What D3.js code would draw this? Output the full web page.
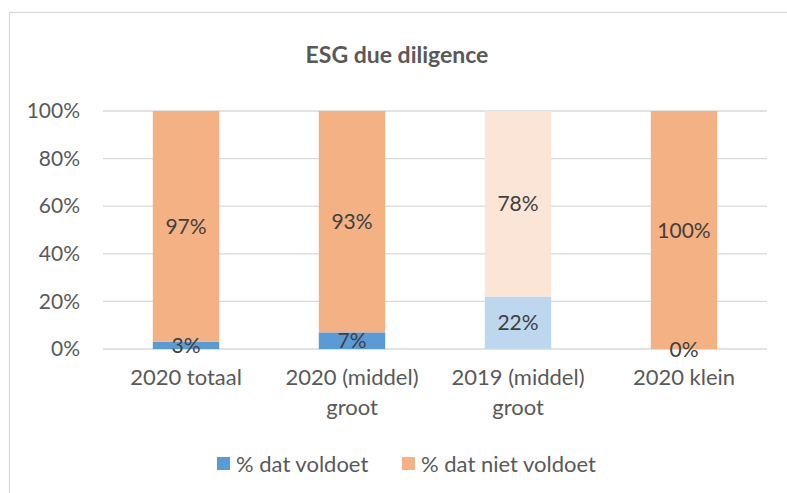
<!DOCTYPE html>
<html>
<head>
<meta charset="utf-8">
<script src="https://cdn.jsdelivr.net/npm/d3@7"></script>
<style>
  body { margin: 0; background: #fff; }
  svg { font-family: Lato, "Liberation Sans", sans-serif; }
</style>
</head>
<body>
<div id="chart"></div>
<script>
// chart data
var categories = ["2020 totaal", "2020 (middel) groot", "2019 (middel) groot", "2020 klein"];
var voldoet = [0.03, 0.07, 0.22, 0.00];
var nietVoldoet = [0.97, 0.93, 0.78, 1.00];
var seriesNames = ["% dat voldoet", "% dat niet voldoet"];
var yTicks = [0, 0.2, 0.4, 0.6, 0.8, 1.0];

var W = 787, H = 493;
var margin = { top: 111, right: 20, bottom: 144, left: 103 };
var width = 767 - margin.left;
var height = 349 - margin.top;

var svg = d3.select("#chart").append("svg")
	.attr("width", W)
	.attr("height", H);

// chart area border
svg.append("rect")
	.attr("x", 9.5).attr("y", 12.5)
	.attr("width", W).attr("height", H)
	.attr("fill", "none")
	.attr("stroke", "#d9d9d9")
	.attr("stroke-width", 1.3);

svg.append("text")
	.attr("x", 397).attr("y", 63)
	.attr("text-anchor", "middle")
	.attr("fill", "#595959")
	.style("font-size", "23px")
	.style("font-weight", "bold")
	.text("ESG due diligence");

var g = svg.append("g")
	.attr("transform", "translate(" + margin.left + "," + margin.top + ")");

var rows = categories.map(function(c, i) {
	return { cat: c, voldoet: voldoet[i], niet: nietVoldoet[i], idx: i };
});

var x = d3.scaleBand()
	.domain(categories)
	.range([0, width])
	.paddingInner(0.6)
	.paddingOuter(0.3);

var y = d3.scaleLinear()
	.domain([0, 1])
	.range([height, 0]);

// gridlines
g.append("g")
	.selectAll("line")
	.data(yTicks)
	.enter().append("line")
	.attr("x1", 0).attr("x2", width)
	.attr("y1", function(d) { return y(d); })
	.attr("y2", function(d) { return y(d); })
	.attr("stroke", "#d9d9d9")
	.attr("stroke-width", 1.3);

// y axis
var yAxis = g.append("g")
	.call(d3.axisLeft(y).tickValues(yTicks).tickFormat(d3.format(".0%")).tickSize(0).tickPadding(23));
yAxis.select(".domain").remove();
yAxis.selectAll("text")
	.attr("fill", "#595959")
	.style("font-size", "21px")
	.style("font-family", "Lato, sans-serif");

// stacked bars
var stack = d3.stack().keys(["voldoet", "niet"]);
var stacked = stack(rows);

var colors = {
	voldoet: ["#5b9bd5", "#5b9bd5", "#bdd7ee", "#5b9bd5"],
	niet: ["#f4b183", "#f4b183", "#fbe5d6", "#f4b183"]
};

var segments = [];
stacked.forEach(function(s) {
	s.forEach(function(d) { segments.push({ key: s.key, d: d }); });
});

g.append("g").selectAll("rect")
	.data(segments)
	.enter().append("rect")
	.attr("x", function(s) { return x(s.d.data.cat); })
	.attr("y", function(s) { return y(s.d[1]); })
	.attr("height", function(s) { return y(s.d[0]) - y(s.d[1]); })
	.attr("width", x.bandwidth())
	.attr("fill", function(s) { return colors[s.key][s.d.data.idx]; });

// data labels, on top of all bars
g.append("g").selectAll("text")
	.data(segments)
	.enter().append("text")
	.attr("x", function(s) { return x(s.d.data.cat) + x.bandwidth() / 2; })
	.attr("y", function(s) { return (y(s.d[0]) + y(s.d[1])) / 2; })
	.attr("dy", "0.36em")
	.attr("text-anchor", "middle")
	.attr("fill", "#404040")
	.style("font-size", "21px")
	.text(function(s) { return d3.format(".0%")(s.d[1] - s.d[0]); });

// x axis labels (wrapped)
var xAxis = g.append("g")
	.attr("transform", "translate(0," + height + ")")
	.call(d3.axisBottom(x).tickSize(0).tickPadding(20));
xAxis.select(".domain").remove();
xAxis.selectAll("text")
	.attr("fill", "#595959")
	.style("font-size", "22px")
	.style("font-family", "Lato, sans-serif")
	.call(wrap, x.step() * 0.95);

// legend
var legend = svg.append("g").attr("transform", "translate(217,457)");
var legendX = [0, 185];
var legendColors = ["#5b9bd5", "#f4b183"];
seriesNames.forEach(function(name, i) {
	var l = legend.append("g").attr("transform", "translate(" + legendX[i] + ",0)");
	l.append("rect").attr("width", 13).attr("height", 13).attr("fill", legendColors[i]);
	l.append("text")
		.attr("x", 19).attr("y", 7).attr("dy", "0.36em")
		.attr("fill", "#595959")
		.style("font-size", "22px")
		.text(name);
});

function wrap(text, w) {
	text.each(function() {
		var text = d3.select(this),
			words = text.text().split(/\s+/).reverse(),
			word,
			line = [],
			lineNumber = 0,
			lineHeight = 1.38,
			yy = text.attr("y"),
			dy = parseFloat(text.attr("dy")),
			tspan = text.text(null).append("tspan").attr("x", 0).attr("y", yy).attr("dy", dy + "em");
		while (word = words.pop()) {
			line.push(word);
			tspan.text(line.join(" "));
			if (tspan.node().getComputedTextLength() > w) {
				line.pop();
				tspan.text(line.join(" "));
				line = [word];
				tspan = text.append("tspan").attr("x", 0).attr("y", yy).attr("dy", ++lineNumber * lineHeight + dy + "em").text(word);
			}
		}
	});
}
</script>
</body>
</html>
